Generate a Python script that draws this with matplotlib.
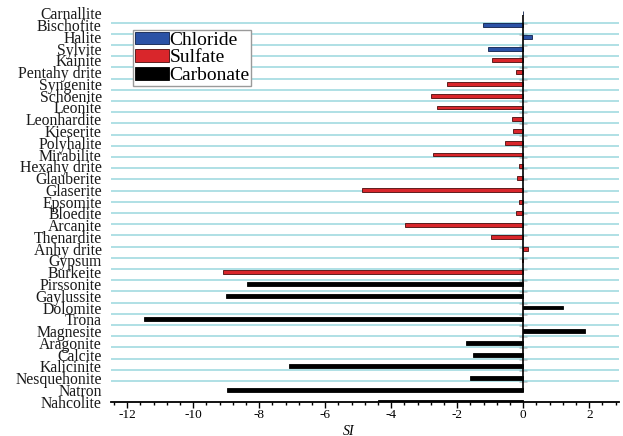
import numpy as np
import matplotlib.pyplot as plt
from matplotlib.ticker import MultipleLocator

plt.rcParams['font.family'] = ['Liberation Serif', 'DejaVu Serif']
plt.rcParams['axes.unicode_minus'] = False

# saturation indices, listed top to bottom
minerals = ['Carnallite', 'Bischofite', 'Halite', 'Sylvite', 'Kainite', 'Pentahy drite',
            'Syngenite', 'Schoenite', 'Leonite', 'Leonhardite', 'Kieserite', 'Polyhalite',
            'Mirabilite', 'Hexahy drite', 'Glauberite', 'Glaserite', 'Epsomite', 'Bloedite',
            'Arcanite', 'Thenardite', 'Anhy drite', 'Gypsum', 'Burkeite', 'Pirssonite',
            'Gaylussite', 'Dolomite', 'Trona', 'Magnesite', 'Aragonite', 'Calcite',
            'Kalicinite', 'Nesquehonite', 'Natron', 'Nahcolite']
si = [0.0, -1.21, 0.26, -1.08, -0.96, -0.21,
      -2.30, -2.80, -2.62, -0.34, -0.32, -0.55,
      -2.75, -0.12, -0.20, -4.90, -0.14, -0.22,
      -3.58, -0.98, 0.13, -0.05, -9.09, -8.38,
      -9.01, 1.19, -11.48, 1.87, -1.72, -1.52,
      -7.10, -1.62, -8.98, -4.41]
groups = ['Chloride'] * 4 + ['Sulfate'] * 19 + ['Carbonate'] * 11

colors = {'Chloride': '#2b52a6', 'Sulfate': '#d9262b', 'Carbonate': '#000000'}
edges = {'Chloride': '#0d1f4a', 'Sulfate': '#4a0b0b', 'Carbonate': '#000000'}

fig = plt.figure(figsize=(6.23, 4.36), dpi=100)
ax = fig.add_axes([0.1778, 0.0787, 0.8157, 0.898])

y = np.arange(len(minerals))
vals = np.array(si)
grp = np.array(groups)
for g in ['Chloride', 'Sulfate', 'Carbonate']:
    m = grp == g
    ax.barh(y[m], vals[m], height=0.33, color=colors[g], edgecolor=edges[g],
            linewidth=0.6, label=g, zorder=3)

xmin, xmax = -12.5, 2.9
ax.set_xlim(xmin, xmax)
ax.set_ylim(32.2, -0.27)

ax.set_yticks(y, minerals)
grid_pos = np.linspace(0.78, 31.24, len(minerals) - 1)
ax.set_yticks(grid_pos, minor=True)
ax.tick_params(axis='y', which='both', length=0, pad=6.5, labelsize=11.3, labelcolor='#1a1a1a')
ax.grid(axis='y', which='minor', color='#a9dde3', lw=1.3, zorder=0)

ax.xaxis.set_major_locator(MultipleLocator(2))
ax.xaxis.set_minor_locator(MultipleLocator(0.4))
ax.tick_params(axis='x', which='major', length=4, width=1, pad=1, labelsize=9.5)
ax.tick_params(axis='x', which='minor', length=2.5, width=1)

for s in ['top', 'right', 'left']:
    ax.spines[s].set_visible(False)
ax.spines['bottom'].set_linewidth(1.3)

# zero line with crossing ticks
sec = ax.secondary_yaxis((0 - xmin) / (xmax - xmin))
sec.set_yticks(grid_pos)
sec.tick_params(direction='inout', length=6, width=1, labelleft=False, labelright=False)
for s in sec.spines.values():
    s.set_visible(False)
ax.vlines(0, 0.14, 32.2, color='black', lw=1.2, zorder=4)

ax.set_xlabel('SI', style='italic', fontsize=10)
ax.xaxis.set_label_coords(0.469, -0.06)

ax.legend(loc='upper left', bbox_to_anchor=(0.044, 0.949), borderaxespad=0,
          fontsize=14, handlelength=1.75, handleheight=0.63, handletextpad=0.05,
          labelspacing=0.02, borderpad=0.08, fancybox=False, edgecolor='#9a9a9a',
          framealpha=1)

fig.savefig('out.png', dpi=100)
